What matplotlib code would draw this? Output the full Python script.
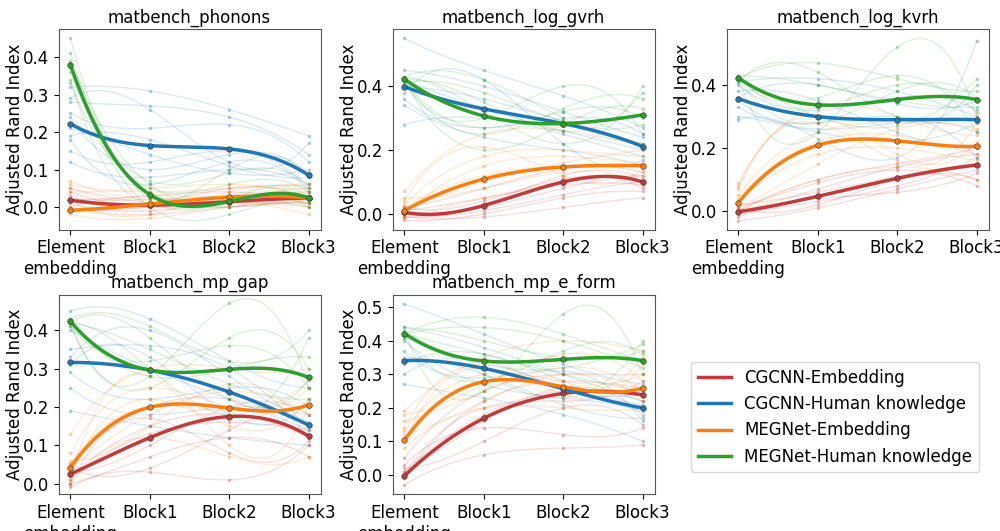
import numpy as np
import matplotlib
matplotlib.use("Agg")
import matplotlib.pyplot as plt
from matplotlib.lines import Line2D
from matplotlib.ticker import MultipleLocator

plt.rcParams['font.family'] = ['DejaVu Sans']
plt.rcParams['font.size'] = 12

stages = ["Element\nembedding", "Block1", "Block2", "Block3"]
methods = ["CGCNN-Embedding", "CGCNN-Human knowledge", "MEGNet-Embedding", "MEGNet-Human knowledge"]
colors = ["#c23b3b", "#1f77b4", "#ff7f0e", "#2ca02c"]
datasets = ["matbench_phonons", "matbench_log_gvrh", "matbench_log_kvrh", "matbench_mp_gap", "matbench_mp_e_form"]
ytick_steps = [0.1, 0.2, 0.2, 0.1, 0.1]
ylims = [None, None, None, (-0.027, 0.492), None]

# ---- mean curves (per dataset, per method): values at Element, Block1, Block2, Block3
phonons_mean = [[0.018, 0.005, 0.014, 0.024], [0.222, 0.164, 0.155, 0.085],
                [-0.009, 0.008, 0.026, 0.024], [0.380, 0.033, 0.015, 0.024]]
gvrh_mean = [[0.005, 0.026, 0.100, 0.100], [0.399, 0.329, 0.283, 0.211],
             [0.010, 0.109, 0.147, 0.151], [0.422, 0.307, 0.283, 0.310]]
kvrh_mean = [[-0.002, 0.047, 0.104, 0.146], [0.357, 0.300, 0.290, 0.290],
             [0.027, 0.209, 0.223, 0.206], [0.423, 0.337, 0.354, 0.354]]
gap_mean = [[0.025, 0.120, 0.175, 0.124], [0.316, 0.296, 0.239, 0.153],
            [0.042, 0.199, 0.197, 0.205], [0.423, 0.296, 0.298, 0.277]]
eform_mean = [[-0.003, 0.169, 0.243, 0.239], [0.341, 0.318, 0.257, 0.200],
              [0.103, 0.278, 0.263, 0.259], [0.422, 0.340, 0.345, 0.341]]

# ---- individual runs (thin lines)
phonons_runs = [
    [[0.04, 0.00, 0.01, 0.03], [0.03, 0.01, 0.05, 0.02], [0.00, -0.02, 0.00, 0.01], [0.02, 0.02, 0.03, 0.04],
     [-0.01, 0.00, 0.02, 0.03], [0.05, 0.01, 0.00, 0.02], [0.01, -0.01, 0.01, 0.00], [0.02, 0.03, 0.04, 0.01]],
    [[0.32, 0.31, 0.26, 0.19], [0.28, 0.27, 0.24, 0.14], [0.25, 0.21, 0.22, 0.12], [0.29, 0.26, 0.12, 0.17],
     [0.19, 0.18, 0.11, 0.08], [0.15, 0.12, 0.15, 0.05], [0.12, 0.08, 0.10, 0.06], [0.24, 0.10, 0.14, 0.09],
     [0.21, 0.14, 0.09, 0.10], [0.18, 0.06, 0.12, 0.04]],
    [[0.07, 0.02, 0.03, 0.05], [0.06, 0.04, 0.05, 0.06], [-0.02, -0.03, 0.00, 0.02], [0.00, 0.03, 0.02, -0.02],
     [0.04, 0.05, 0.06, 0.03], [-0.01, 0.00, 0.01, 0.00], [0.02, -0.02, 0.04, 0.04], [0.05, 0.01, 0.02, 0.01]],
    [[0.45, 0.02, 0.02, 0.03], [0.33, 0.05, 0.06, 0.04], [0.38, 0.00, -0.02, 0.02], [0.36, 0.07, 0.09, 0.06],
     [0.41, 0.03, 0.01, 0.00], [0.34, 0.01, 0.10, 0.08], [0.39, 0.06, 0.00, 0.01], [0.37, 0.04, 0.03, 0.05]],
]
gvrh_runs = [
    [[-0.02, 0.00, 0.05, 0.07], [0.00, 0.03, 0.12, 0.11], [0.02, 0.08, 0.14, 0.13], [0.01, 0.05, 0.09, 0.09],
     [-0.01, -0.01, 0.02, 0.05], [0.00, 0.02, 0.08, 0.12], [0.02, 0.04, 0.11, 0.08], [-0.01, 0.01, 0.06, 0.10]],
    [[0.55, 0.45, 0.37, 0.27], [0.45, 0.40, 0.32, 0.24], [0.28, 0.30, 0.25, 0.18], [0.34, 0.24, 0.20, 0.15],
     [0.40, 0.36, 0.29, 0.22], [0.42, 0.33, 0.26, 0.20], [0.36, 0.27, 0.30, 0.25], [0.38, 0.42, 0.22, 0.17]],
    [[0.07, 0.25, 0.26, 0.22], [0.03, 0.18, 0.20, 0.18], [-0.01, 0.05, 0.10, 0.12], [0.02, 0.12, 0.15, 0.15],
     [0.05, 0.08, 0.13, 0.10], [0.00, 0.15, 0.18, 0.16], [0.04, 0.21, 0.12, 0.14], [0.01, 0.10, 0.16, 0.20]],
    [[0.42, 0.20, 0.28, 0.33], [0.43, 0.42, 0.30, 0.22], [0.41, 0.30, 0.40, 0.25], [0.42, 0.35, 0.26, 0.38],
     [0.42, 0.27, 0.32, 0.30], [0.43, 0.32, 0.22, 0.40], [0.41, 0.38, 0.29, 0.28], [0.42, 0.25, 0.33, 0.36]],
]
kvrh_runs = [
    [[-0.03, 0.01, 0.07, 0.13], [0.00, 0.10, 0.15, 0.20], [0.02, 0.06, 0.11, 0.15], [-0.01, 0.03, 0.08, 0.17],
     [0.01, 0.09, 0.13, 0.08], [-0.02, 0.04, 0.06, 0.12], [0.00, 0.07, 0.14, 0.18], [0.01, 0.02, 0.10, 0.10]],
    [[0.41, 0.42, 0.38, 0.30], [0.29, 0.23, 0.17, 0.54], [0.38, 0.35, 0.25, 0.20], [0.33, 0.28, 0.30, 0.17],
     [0.36, 0.40, 0.34, 0.35], [0.30, 0.25, 0.22, 0.28], [0.40, 0.32, 0.36, 0.32], [0.35, 0.26, 0.28, 0.25]],
    [[0.09, 0.33, 0.30, 0.24], [0.00, 0.10, 0.14, 0.10], [0.05, 0.25, 0.28, 0.30], [0.03, 0.18, 0.20, 0.16],
     [0.07, 0.30, 0.18, 0.22], [0.01, 0.15, 0.26, 0.26], [0.04, 0.22, 0.24, 0.18], [0.08, 0.28, 0.16, 0.28]],
    [[0.42, 0.47, 0.42, 0.38], [0.42, 0.25, 0.52, 0.30], [0.42, 0.30, 0.27, 0.42], [0.43, 0.40, 0.35, 0.33],
     [0.42, 0.36, 0.43, 0.25], [0.41, 0.44, 0.30, 0.40], [0.42, 0.28, 0.38, 0.36], [0.43, 0.33, 0.40, 0.31]],
]
gap_runs = [
    [[-0.01, 0.03, 0.01, 0.10], [0.05, 0.20, 0.22, 0.15], [0.02, 0.15, 0.18, 0.12], [0.00, 0.07, 0.12, 0.07],
     [0.03, 0.10, 0.20, 0.18], [0.01, 0.13, 0.16, 0.14], [0.04, 0.04, 0.14, 0.20], [0.00, 0.17, 0.08, 0.11]],
    [[0.45, 0.43, 0.32, 0.25], [0.19, 0.15, 0.12, 0.10], [0.33, 0.40, 0.28, 0.18], [0.40, 0.30, 0.22, 0.14],
     [0.29, 0.22, 0.25, 0.20], [0.35, 0.36, 0.30, 0.12], [0.25, 0.18, 0.20, 0.16], [0.31, 0.33, 0.18, 0.22]],
    [[0.13, 0.30, 0.30, 0.30], [0.00, 0.12, 0.07, 0.07], [0.08, 0.25, 0.20, 0.25], [0.04, 0.18, 0.24, 0.18],
     [0.02, 0.22, 0.15, 0.22], [0.06, 0.15, 0.26, 0.13], [0.01, 0.28, 0.10, 0.20], [0.05, 0.20, 0.19, 0.27]],
    [[0.42, 0.28, 0.47, 0.25], [0.43, 0.41, 0.32, 0.40], [0.42, 0.30, 0.18, 0.38], [0.41, 0.25, 0.38, 0.30],
     [0.42, 0.35, 0.26, 0.22], [0.43, 0.28, 0.30, 0.33], [0.42, 0.38, 0.22, 0.27], [0.41, 0.32, 0.36, 0.25]],
]
eform_runs = [
    [[-0.03, 0.06, 0.08, 0.09], [0.05, 0.25, 0.30, 0.30], [0.01, 0.18, 0.25, 0.22], [0.02, 0.10, 0.20, 0.15],
     [-0.01, 0.22, 0.28, 0.26], [0.03, 0.14, 0.12, 0.14], [0.00, 0.20, 0.22, 0.28], [0.01, 0.16, 0.26, 0.18]],
    [[0.51, 0.42, 0.33, 0.27], [0.27, 0.23, 0.18, 0.10], [0.44, 0.38, 0.30, 0.22], [0.35, 0.30, 0.21, 0.17],
     [0.30, 0.34, 0.26, 0.25], [0.40, 0.27, 0.23, 0.19], [0.33, 0.36, 0.28, 0.21], [0.37, 0.29, 0.31, 0.16]],
    [[0.19, 0.35, 0.40, 0.37], [0.08, 0.20, 0.20, 0.20], [0.13, 0.30, 0.28, 0.30], [0.16, 0.25, 0.32, 0.25],
     [0.10, 0.32, 0.24, 0.33], [0.18, 0.27, 0.36, 0.28], [0.12, 0.22, 0.30, 0.22], [0.14, 0.33, 0.26, 0.35]],
    [[0.42, 0.47, 0.42, 0.34], [0.43, 0.25, 0.48, 0.30], [0.41, 0.30, 0.23, 0.40], [0.44, 0.40, 0.35, 0.37],
     [0.42, 0.36, 0.30, 0.25], [0.42, 0.44, 0.40, 0.32], [0.41, 0.28, 0.37, 0.36], [0.43, 0.33, 0.32, 0.39]],
]

all_means = [phonons_mean, gvrh_mean, kvrh_mean, gap_mean, eform_mean]
all_runs = [phonons_runs, gvrh_runs, kvrh_runs, gap_runs, eform_runs]

x = np.arange(len(stages))
xs = np.linspace(0, 3, 200)


def smooth(vals):
    coef = np.polyfit(x, np.asarray(vals, float), 3)
    return np.polyval(coef, xs)


fig = plt.figure(figsize=(10, 5.31), dpi=100)
lefts = [0.0585, 0.3925, 0.7265]
w = 0.262
rows = [(0.5674, 0.3774), (0.0697, 0.3748)]
positions = [(lefts[0], rows[0]), (lefts[1], rows[0]), (lefts[2], rows[0]),
             (lefts[0], rows[1]), (lefts[1], rows[1])]

for i, name in enumerate(datasets):
    (l, (b, h)) = positions[i]
    ax = fig.add_axes([l, b, w, h])
    for m in range(4):
        c = colors[m]
        for run in all_runs[i][m]:
            ax.plot(xs, smooth(run), color=c, alpha=0.16, lw=1)
            ax.plot(x, run, ls='none', marker='s', ms=2, color=c, alpha=0.25)
    for m in range(4):
        c = colors[m]
        mv = all_means[i][m]
        ax.plot(xs, smooth(mv), color=c, lw=2.5)
        ax.plot(x, mv, ls='none', marker='o', ms=4, color=c, mec='#333333', mew=0.4)
    ax.set_title(name, fontsize=12, pad=5)
    ax.set_xticks(x)
    ax.set_xticklabels(stages, fontsize=12)
    ax.yaxis.set_major_locator(MultipleLocator(ytick_steps[i]))
    if ylims[i] is not None:
        ax.set_ylim(*ylims[i])
    ax.tick_params(axis='y', labelsize=12)
    ax.set_ylabel("Adjusted Rand Index", fontsize=12)
    ax.yaxis.set_label_coords(-0.132, 0.5)
    for s in ax.spines.values():
        s.set_color('#555555')

handles = [Line2D([0], [0], color=c, lw=2.5) for c in colors]
fig.legend(handles, methods, loc='upper left', bbox_to_anchor=(0.691, 0.318),
           borderaxespad=0, fontsize=12, frameon=True)

fig.savefig("out.png", dpi=100)
